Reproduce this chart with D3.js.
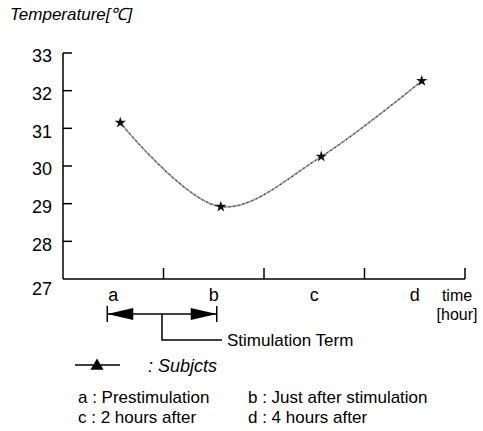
<!DOCTYPE html>
<html>
<head>
<meta charset="utf-8">
<script src="https://cdn.jsdelivr.net/npm/d3@7"></script>
<style>
  body { margin: 0; background: #fff; }
  svg { display: block; font-family: "Liberation Sans", Arial, sans-serif; }
</style>
</head>
<body>
<svg id="chart" width="483" height="431"></svg>
<script>

// Data
const categories = ["a", "b", "c", "d"];
const temperatures = [31.15, 28.92, 30.25, 32.26];
const yTicks = [27, 28, 29, 30, 31, 32, 33];
const notes = [
    ["a : Prestimulation", "b : Just after stimulation"],
    ["c : 2 hours after", "d : 4 hours after"]
];

const svg = d3.select("#chart");

// Scales
const x = d3.scaleBand().domain(categories).range([63, 465]).padding(0);
const y = d3.scaleLinear().domain([27, 33]).range([279, 53]);
// measurement points sit a little right of the band centre
const pointX = d => x(d) + x.bandwidth() * 0.57;

// Y axis title
svg.append("text")
    .attr("x", 10).attr("y", 20)
    .style("font-size", "17px").style("font-style", "italic")
    .text("Temperature[℃]");

// Y axis (ticks point inwards)
svg.append("line")
    .attr("x1", 63).attr("x2", 63)
    .attr("y1", y(33)).attr("y2", y(27))
    .attr("stroke", "#000").attr("stroke-width", 1.5);
svg.selectAll(".ytick").data(yTicks.slice(1)).enter()
    .append("line")
    .attr("x1", 63).attr("x2", 72)
    .attr("y1", d => y(d)).attr("y2", d => y(d))
    .attr("stroke", "#000").attr("stroke-width", 1.5);
svg.selectAll(".ylab").data(yTicks).enter()
    .append("text")
    .attr("x", 52)
    .attr("y", d => y(d) + (d === 27 ? 10 : 3))
    .attr("dy", "0.35em")
    .attr("text-anchor", "end")
    .style("font-size", "18px")
    .text(d => d);

// X axis with upward ticks at band edges
svg.append("line")
    .attr("x1", 63).attr("x2", 465)
    .attr("y1", y(27)).attr("y2", y(27))
    .attr("stroke", "#000").attr("stroke-width", 1.5);
const edges = categories.slice(1).map(d => x(d)).concat([x.range()[1]]);
svg.selectAll(".xtick").data(edges).enter()
    .append("line")
    .attr("x1", d => d).attr("x2", d => d)
    .attr("y1", y(27)).attr("y2", y(27) - 11)
    .attr("stroke", "#000").attr("stroke-width", 1.5);
svg.selectAll(".xlab").data(categories).enter()
    .append("text")
    .attr("x", d => x(d) + x.bandwidth() / 2)
    .attr("y", 301)
    .attr("text-anchor", "middle")
    .style("font-size", "18px")
    .text(d => d);
svg.append("text")
    .attr("x", 457).attr("y", 301)
    .attr("text-anchor", "middle")
    .style("font-size", "16px")
    .text("time");
svg.append("text")
    .attr("x", 457).attr("y", 320)
    .attr("text-anchor", "middle")
    .style("font-size", "16px")
    .text("[hour]");

// Curve
const points = categories.map((c, i) => [pointX(c), y(temperatures[i])]);
const line = d3.line().curve(d3.curveCatmullRom.alpha(0.5));
svg.append("path")
    .attr("d", line(points))
    .attr("fill", "none")
    .attr("stroke", "#9a9a9a").attr("stroke-width", 1.6);
svg.append("path")
    .attr("d", line(points))
    .attr("fill", "none")
    .attr("stroke", "#333").attr("stroke-width", 1.2)
    .attr("stroke-dasharray", "1.2,3.5");

svg.selectAll(".pt").data(points).enter()
    .append("path")
    .attr("transform", d => `translate(${d[0]},${d[1]})`)
    .attr("d", d3.symbol().type(d3.symbolStar).size(40))
    .attr("fill", "#111");

// Stimulation term arrow (from a to b)
const xa = x("a") + x.bandwidth() / 2 - 6,
    xb = x("b") + x.bandwidth() / 2 + 3,
    ay = 314;
const g = svg.append("g").attr("stroke", "#000").attr("stroke-width", 1.5).attr("fill", "none");
g.append("line").attr("x1", xa).attr("x2", xa).attr("y1", ay - 8).attr("y2", ay + 8);
g.append("line").attr("x1", xb).attr("x2", xb).attr("y1", ay - 8).attr("y2", ay + 8);
g.append("line").attr("x1", xa).attr("x2", xb).attr("y1", ay).attr("y2", ay);
svg.append("path")
    .attr("d", `M${xa},${ay} L${xa + 26},${ay - 6} L${xa + 26},${ay + 6} Z`)
    .attr("fill", "#000");
svg.append("path")
    .attr("d", `M${xb},${ay} L${xb - 26},${ay - 6} L${xb - 26},${ay + 6} Z`)
    .attr("fill", "#000");
const mid = (xa + xb) / 2;
g.append("path").attr("d", `M${mid},${ay} V340 H${mid + 60}`);
svg.append("text")
    .attr("x", mid + 65).attr("y", 346)
    .style("font-size", "17px")
    .text("Stimulation Term");

// Legend
svg.append("line")
    .attr("x1", 75).attr("x2", 120).attr("y1", 365).attr("y2", 365)
    .attr("stroke", "#000").attr("stroke-width", 1.5);
svg.append("path")
    .attr("transform", "translate(97,366)")
    .attr("d", d3.symbol().type(d3.symbolTriangle).size(75))
    .attr("fill", "#000");
svg.append("text")
    .attr("x", 148).attr("y", 372)
    .style("font-size", "18px").style("font-style", "italic")
    .text(": Subjcts");

// Category notes
notes.forEach((row, r) => {
    row.forEach((t, c) => {
        svg.append("text")
            .attr("x", c === 0 ? 78 : 248)
            .attr("y", 403 + r * 20)
            .style("font-size", "17px")
            .text(t);
    });
});

</script>
</body>
</html>
